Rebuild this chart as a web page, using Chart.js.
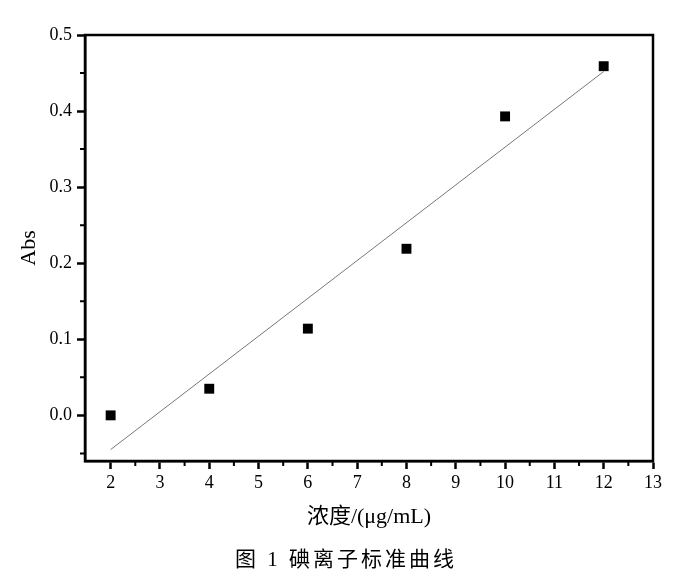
<!DOCTYPE html>
<html>
<head>
<meta charset="utf-8">
<script src="https://cdn.jsdelivr.net/npm/chart.js@4"></script>
<style>
  html, body { margin: 0; padding: 0; background: #fff; }
  #wrap { width: 700px; height: 583px; }
</style>
</head>
<body>
<div id="wrap"><canvas id="chart" width="700" height="583"></canvas></div>
<script>
// values
const conc = [2, 4, 6, 8, 10, 12];
const abs = [0.0, 0.035, 0.114, 0.219, 0.393, 0.459];
const fitX = [2, 12];
const fitY = [-0.045, 0.452];

const xTicks = [2, 3, 4, 5, 6, 7, 8, 9, 10, 11, 12, 13];
const xMinor = [2.5, 3.5, 4.5, 5.5, 6.5, 7.5, 8.5, 9.5, 10.5, 11.5, 12.5];
const yTicks = [0.0, 0.1, 0.2, 0.3, 0.4, 0.5];
const yMinor = [-0.05, 0.05, 0.15, 0.25, 0.35, 0.45];

const caption = '图 1 碘离子标准曲线';

const serif = "'Liberation Serif', 'Noto Sans CJK SC', serif";

const frame = {
    id: 'frame',
    afterDraw(c) {
        const ctx = c.ctx;
        const a = c.chartArea;
        const x = c.scales.x, y = c.scales.y;
        ctx.save();
        ctx.strokeStyle = '#000';
        ctx.lineWidth = 2.5;
        ctx.strokeRect(a.left, a.top, a.right - a.left, a.bottom - a.top);
        // minor ticks
        ctx.lineWidth = 2;
        ctx.beginPath();
        xMinor.forEach(v => {
            const px = x.getPixelForValue(v);
            ctx.moveTo(px, a.bottom);
            ctx.lineTo(px, a.bottom + 5);
        });
        yMinor.forEach(v => {
            const py = y.getPixelForValue(v);
            ctx.moveTo(a.left, py);
            ctx.lineTo(a.left - 5, py);
        });
        ctx.stroke();
        // caption
        ctx.fillStyle = '#000';
        ctx.font = "21px " + serif;
        ctx.textAlign = 'center';
        ctx.textBaseline = 'middle';
        if ('letterSpacing' in ctx) ctx.letterSpacing = '3px';
        ctx.fillText(caption, 346, 560);
        ctx.restore();
    }
};

new Chart(document.querySelector('#chart'), {
    type: 'scatter',
    data: {
        datasets: [
            {
                label: 'Abs',
                data: conc.map((v, i) => ({x: v, y: abs[i]})),
                pointStyle: 'rect',
                pointRadius: 7,
                pointHoverRadius: 7,
                backgroundColor: '#000',
                borderColor: '#000',
                borderWidth: 0
            },
            {
                type: 'line',
                label: 'fit',
                data: fitX.map((v, i) => ({x: v, y: fitY[i]})),
                borderColor: '#777',
                borderWidth: 1,
                pointRadius: 0,
                fill: false
            }
        ]
    },
    options: {
        responsive: false,
        animation: false,
        layout: { padding: { left: 13, top: 35, right: 47, bottom: 49 } },
        plugins: {
            legend: { display: false },
            tooltip: { enabled: false }
        },
        scales: {
            x: {
                type: 'linear',
                min: 1.48,
                max: 13,
                afterFit: s => { s.height = 73; },
                afterBuildTicks: s => { s.ticks = xTicks.map(v => ({value: v})); },
                grid: { drawOnChartArea: false, tickLength: 8, tickWidth: 2.5, tickColor: '#000' },
                border: { color: '#000', width: 2.5 },
                ticks: { color: '#000', font: { family: serif, size: 18 }, padding: 3, maxRotation: 0 },
                title: { display: true, text: '浓度/(μg/mL)', color: '#000', font: { family: serif, size: 22 }, padding: 4 }
            },
            y: {
                min: -0.06,
                max: 0.5,
                afterFit: s => { s.width = 72; },
                afterBuildTicks: s => { s.ticks = yTicks.map(v => ({value: v})); },
                grid: { drawOnChartArea: false, tickLength: 8, tickWidth: 2.5, tickColor: '#000' },
                border: { color: '#000', width: 2.5 },
                ticks: { color: '#000', font: { family: serif, size: 18 }, padding: 5,
                    callback: v => v.toFixed(1) },
                title: { display: true, text: 'Abs', color: '#000', font: { family: serif, size: 22 }, padding: 3 }
            }
        }
    },
    plugins: [frame]
});
</script>
</body>
</html>
